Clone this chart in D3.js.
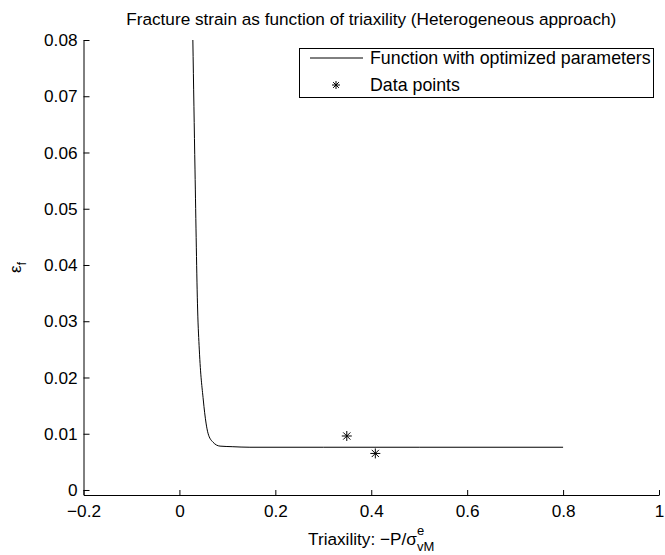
<!DOCTYPE html>
<html>
<head>
<meta charset="utf-8">
<script src="https://cdn.jsdelivr.net/npm/d3@7"></script>
<style>
  body { margin: 0; background: #fff; }
  svg { font-family: "Liberation Sans", Arial, sans-serif; }
</style>
</head>
<body>
<svg width="665" height="555"></svg>
<script>
// fitted curve
var curveX = [0.028, 0.0325, 0.038, 0.0415, 0.0498, 0.0555, 0.0596, 0.070, 0.0847, 0.11, 0.147, 0.3, 0.5, 0.8];
var curveY = [0.08, 0.0569, 0.032, 0.0249, 0.016, 0.0119, 0.0101, 0.0085, 0.0078, 0.0077, 0.0076, 0.0076, 0.0076, 0.0076];

// measured data points
var pointX = [0.349, 0.4085];
var pointY = [0.0096, 0.0065];

var xTicks = [-0.2, 0, 0.2, 0.4, 0.6, 0.8, 1];
var yTicks = [0, 0.01, 0.02, 0.03, 0.04, 0.05, 0.06, 0.07, 0.08];
var legendLabels = ["Function with optimized parameters", "Data points"];

var svg = d3.select("svg"),
    mLeft = 83.5, mRight = 659, mTop = 40, mBottom = 495,
    fs = 17.2;

var x = d3.scaleLinear().domain([-0.2, 1]).range([mLeft, mRight]);
var y = d3.scaleLinear().domain([-0.00089, 0.08]).range([mBottom, mTop]);

svg.append("clipPath").attr("id", "clip")
  .append("rect").attr("x", mLeft).attr("y", mTop).attr("width", mRight - mLeft).attr("height", mBottom - mTop);

// axes with inward ticks
svg.append("g")
  .attr("transform", "translate(0," + mBottom + ")")
  .call(d3.axisBottom(x).tickValues(xTicks).tickSizeInner(-5).tickSizeOuter(0).tickPadding(10)
    .tickFormat(function(d) { return d < 0 ? "\u2212" + Math.abs(d) : d; }));

svg.append("g")
  .attr("transform", "translate(" + mLeft + ",0)")
  .call(d3.axisLeft(y).tickValues(yTicks).tickSizeInner(-6).tickSizeOuter(0).tickPadding(6)
    .tickFormat(function(d) { return d; }));

svg.selectAll(".tick text").attr("font-size", fs).attr("fill", "#000")
  .attr("font-family", "Liberation Sans, Arial, sans-serif");
svg.selectAll(".domain, .tick line").attr("stroke", "#000");

// curve
var line = d3.line()
  .x(function(d, i) { return x(curveX[i]); })
  .y(function(d, i) { return y(curveY[i]); })
  .curve(d3.curveMonotoneX);

svg.append("path")
  .datum(curveX)
  .attr("clip-path", "url(#clip)")
  .attr("d", line)
  .attr("fill", "none")
  .attr("stroke", "#000")
  .attr("stroke-width", 1);

function star(g, cx, cy, r) {
  var d = r * 0.72;
  g.append("path")
    .attr("d", "M" + (cx - r) + "," + cy + "H" + (cx + r) +
               "M" + cx + "," + (cy - r) + "V" + (cy + r) +
               "M" + (cx - d) + "," + (cy - d) + "L" + (cx + d) + "," + (cy + d) +
               "M" + (cx - d) + "," + (cy + d) + "L" + (cx + d) + "," + (cy - d))
    .attr("stroke", "#000").attr("stroke-width", 1).attr("fill", "none");
}

pointX.forEach(function(px, i) { star(svg, x(px), y(pointY[i]), 5); });

// title
svg.append("text")
  .attr("x", (mLeft + mRight) / 2)
  .attr("y", 25)
  .attr("text-anchor", "middle")
  .attr("font-size", fs)
  .text("Fracture strain as function of triaxility (Heterogeneous approach)");

// x label
var xl = svg.append("text")
  .attr("x", (mLeft + mRight) / 2)
  .attr("y", 545)
  .attr("text-anchor", "middle")
  .attr("font-size", fs);
xl.append("tspan").text("Triaxility: \u2212P/\u03c3");
xl.append("tspan").attr("dy", -10).attr("font-size", 13).text("e");
xl.append("tspan").attr("dx", -7).attr("dy", 16).attr("font-size", 13).text("vM");

// y label
var yl = svg.append("text")
  .attr("transform", "translate(21," + ((mTop + mBottom) / 2) + ") rotate(-90)")
  .attr("text-anchor", "middle")
  .attr("font-size", fs);
yl.append("tspan").text("\u03b5");
yl.append("tspan").attr("dy", 5).attr("font-size", 12).text("f");

// legend
var lg = svg.append("g");
lg.append("rect")
  .attr("x", 299.5).attr("y", 48.5).attr("width", 354).attr("height", 49)
  .attr("fill", "#fff").attr("stroke", "#000");
lg.append("line")
  .attr("x1", 310).attr("x2", 363).attr("y1", 58).attr("y2", 58)
  .attr("stroke", "#000");
star(lg, 336, 85, 4);
legendLabels.forEach(function(t, i) {
  lg.append("text")
    .attr("x", 370).attr("y", 64 + i * 27)
    .attr("font-size", 17.8)
    .text(t);
});
</script>
</body>
</html>
